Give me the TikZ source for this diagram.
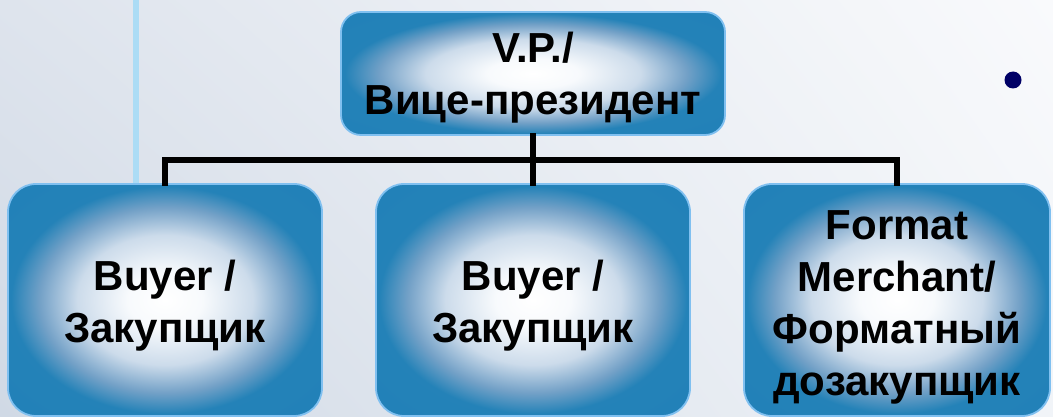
\documentclass[tikz,border=0pt]{standalone}
\usepackage{fontspec}
\setmainfont{Liberation Sans}
\usetikzlibrary{shadings}
\pgfdeclareradialshading{boxshade}{\pgfpoint{0bp}{0bp}}{%
  rgb(0bp)=(1,1,1);
  rgb(6bp)=(0.97,0.98,0.99);
  rgb(14bp)=(0.80,0.86,0.92);
  rgb(20bp)=(0.45,0.63,0.78);
  rgb(24.5bp)=(0.14,0.51,0.72);
  rgb(50bp)=(0.12,0.50,0.72)}
\definecolor{bgUL}{RGB}{222,228,237}
\definecolor{bgLL}{RGB}{208,217,229}
\definecolor{bgUR}{RGB}{249,250,252}
\definecolor{bgLR}{RGB}{241,244,248}
\definecolor{vline}{RGB}{172,220,245}
\definecolor{boxedge}{RGB}{128,192,240}
\definecolor{navy}{RGB}{0,0,102}
\tikzset{
  orgbox/.style={shading=boxshade, draw=boxedge, line width=1.8pt,
    rounded corners=#1, inner sep=0pt},
  orgbox/.default=28pt,
  boxtext/.style={align=center, inner sep=0pt,
    font=\fontsize{42}{52}\selectfont\bfseries},
  conn/.style={line width=5.5pt, black, line join=miter, line cap=rect},
}
\begin{document}
\begin{tikzpicture}[x=1pt,y=-1pt]
\useasboundingbox (0,0) rectangle (1053,417);
\shade[upper left=bgUL, lower left=bgLL, upper right=bgUR, lower right=bgLR]
  (0,0) rectangle (1053,417);
\draw[vline, line width=6pt] (136,-2) -- (136,200);
\node[orgbox=20pt, minimum width=384pt, minimum height=123pt] (top) at (533,73.5) {};
\node[orgbox, minimum width=314pt, minimum height=232pt] (b1) at (165,300) {};
\node[orgbox, minimum width=314pt, minimum height=232pt] (b2) at (533,300) {};
\node[orgbox, minimum width=306pt, minimum height=232pt] (b3) at (897,300) {};
\node[boxtext] (ttop) at ([yshift=-4pt]top.center) {V.P./\\Вице-президент};
\node[boxtext] (tb1) at ([yshift=-6pt]b1.center) {Buyer /\\Закупщик};
\node[boxtext] (tb2) at ([yshift=-6pt]b2.center) {Buyer /\\Закупщик};
\node[boxtext] (tb3) at ([yshift=-7pt]b3.center) {Format\\Merchant/\\Форматный\\дозакупщик};
\coordinate (hr) at (897,160);
\draw[conn] (top.south) -- (b2.north);
\draw[conn] (b1.north) |- (hr) -- (b3.north);
\node[circle, fill=navy, inner sep=0pt, minimum size=17pt] (dot) at (1013,80) {};
\end{tikzpicture}
\end{document}
